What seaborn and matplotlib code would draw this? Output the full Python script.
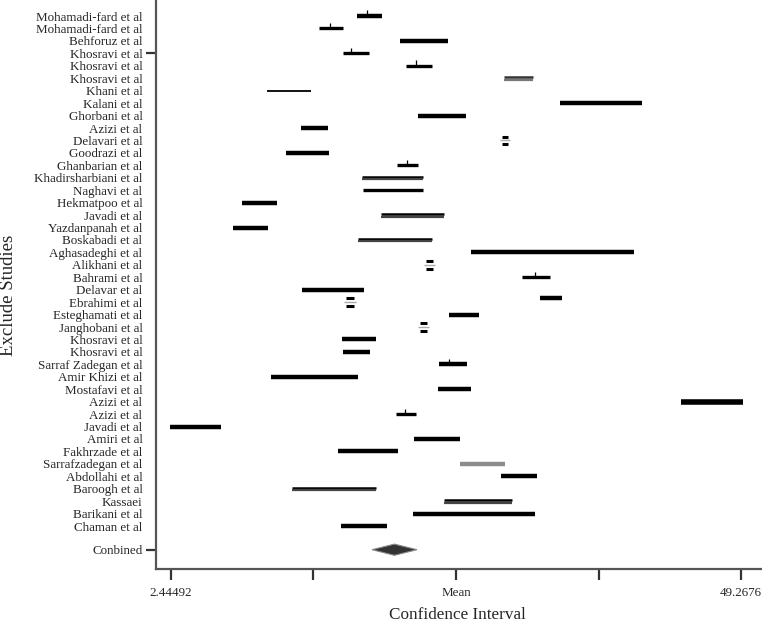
import numpy as np
import pandas as pd
import matplotlib
matplotlib.use("Agg")
import matplotlib.pyplot as plt
import seaborn as sns

# --- DATA ---
studies = [
    "Mohamadi-fard et al", "Mohamadi-fard et al", "Behforuz et al", "Khosravi et al",
    "Khosravi et al", "Khosravi et al", "Khani et al", "Kalani et al", "Ghorbani et al",
    "Azizi et al", "Delavari et al", "Goodrazi et al", "Ghanbarian et al",
    "Khadirsharbiani et al", "Naghavi et al", "Hekmatpoo et al", "Javadi et al",
    "Yazdanpanah et al", "Boskabadi et al", "Aghasadeghi et al", "Alikhani et al",
    "Bahrami et al", "Delavar et al", "Ebrahimi et al", "Esteghamati et al",
    "Janghobani et al", "Khosravi et al", "Khosravi et al", "Sarraf Zadegan et al",
    "Amir Khizi et al", "Mostafavi et al", "Azizi et al", "Azizi et al", "Javadi et al",
    "Amiri et al", "Fakhrzade et al", "Sarrafzadegan et al", "Abdollahi et al",
    "Baroogh et al", "Kassaei", "Barikani et al", "Chaman et al",
]
lower = [17.72, 14.60, 21.26, 16.57, 21.75, 29.80, 10.33, 34.40, 22.74, 13.12,
         29.64, 11.89, 21.01, 18.14, 18.22, 8.28, 19.70, 7.54, 17.81, 27.09,
         23.39, 31.28, 13.21, 16.82, 25.28, 22.90, 16.49, 16.57, 24.46, 10.66,
         24.38, 44.34, 20.93, 2.36, 22.41, 16.16, 26.19, 29.55, 12.39, 24.87,
         22.32, 16.41]
upper = [19.78, 16.57, 25.20, 18.71, 23.89, 32.18, 13.95, 41.13, 26.68, 15.34,
         30.13, 15.42, 22.74, 23.15, 23.15, 11.15, 24.87, 10.41, 23.89, 40.48,
         23.97, 33.58, 18.30, 17.48, 27.75, 23.47, 19.28, 18.79, 26.76, 17.81,
         27.09, 49.43, 22.57, 6.55, 26.19, 21.09, 29.88, 32.51, 19.28, 30.46,
         32.35, 20.19]
estimate = [18.55, 15.51, None, 17.23, 22.57, None, None, None, None, None,
            None, None, 21.83, None, None, None, None, None, None, None,
            None, 32.35, None, None, None, None, None, None, 25.28, None,
            None, None, 21.67, None, None, None, None, None, None, None,
            None, None]
# second interval drawn next to Ebrahimi
extra_row = [23]
extra_lower = [32.76]
extra_upper = [34.56]

combined_label = "Conbined"
combined_low, combined_mid, combined_high = 18.96, 20.80, 22.65

x_min, x_max = 2.44492, 49.2676

# drawing kind per row (style only)
kind = ["thick", "mid", "thick", "mid", "mid", "grey2", "thin", "thick", "thick", "thick",
        "box", "thick", "mid", "double", "mid", "thick", "double", "thick", "double", "thick",
        "box", "mid", "thick", "box", "thick", "box", "thick", "thick", "thick", "thick",
        "thick", "heavy", "mid", "thick", "thick", "thick", "grey", "thick", "double", "double",
        "thick", "thick"]


def generate_plot():
    sns.set_style("ticks")
    plt.rcParams["font.family"] = ["Liberation Serif", "DejaVu Serif"]

    df = pd.DataFrame({"study": studies, "lo": lower, "hi": upper,
                       "est": estimate, "kind": kind})
    df["row"] = np.arange(len(df))
    comb_row = len(df) + 0.9

    fig = plt.figure(figsize=(7.62, 6.23), dpi=100)
    ax = fig.add_axes([0.2043, 0.0867, 0.7957, 0.9133])

    for _, r in df.iterrows():
        y = r["row"]
        k = r["kind"]
        if k == "thick":
            ax.hlines(y, r["lo"], r["hi"], color="black", lw=3.2)
        elif k == "heavy":
            ax.hlines(y, r["lo"], r["hi"], color="black", lw=4.0)
        elif k == "mid":
            ax.hlines(y, r["lo"], r["hi"], color="black", lw=2.4)
        elif k == "thin":
            ax.hlines(y, r["lo"], r["hi"], color="black", lw=1.3)
        elif k == "grey":
            ax.hlines(y, r["lo"], r["hi"], color="#8c8c8c", lw=3.2)
        elif k == "double":
            ax.hlines(y - 0.1, r["lo"], r["hi"], color="black", lw=1.8)
            ax.hlines(y + 0.12, r["lo"], r["hi"], color="#444444", lw=1.6)
        elif k == "grey2":
            ax.hlines(y - 0.1, r["lo"], r["hi"], color="#333333", lw=1.8)
            ax.hlines(y + 0.12, r["lo"], r["hi"], color="#777777", lw=1.6)
        elif k == "box":
            ax.hlines(y - 0.3, r["lo"], r["hi"], color="black", lw=2.2)
            ax.hlines(y + 0.3, r["lo"], r["hi"], color="black", lw=2.2)
            ax.hlines(y, r["lo"] - 0.15, r["hi"] + 0.15, color="#aaaaaa", lw=1.0)
        if pd.notna(r["est"]):
            ax.vlines(r["est"], y - 0.45, y, color="black", lw=0.9)

    for rw, lo, hi in zip(extra_row, extra_lower, extra_upper):
        ax.hlines(rw - 0.35, lo, hi, color="black", lw=3.2)

    # combined diamond
    ax.fill([combined_low, combined_mid, combined_high, combined_mid],
            [comb_row, comb_row - 0.45, comb_row, comb_row + 0.45],
            color="#333333", lw=0.8, ec="#888888")

    # axes
    ax.set_xlim(1.19, 50.99)
    ax.set_ylim(44.45, -1.29)
    step = (x_max - x_min) / 4
    xt = [x_min + i * step for i in range(5)]
    ax.set_xticks(xt)
    ax.set_xticklabels(["2.44492", "", "Mean", "", "49.2676"], fontsize=9.4)

    yt = list(df["row"]) + [comb_row]
    ax.set_yticks(yt)
    ax.set_yticklabels(list(df["study"]) + [combined_label], fontsize=9.4)
    for i, t in enumerate(ax.yaxis.get_major_ticks()):
        if i not in (3, len(yt) - 1):
            t.tick1line.set_visible(False)

    ax.tick_params(axis="x", length=8, width=1.6, pad=5, color="#333333")
    ax.tick_params(axis="y", length=7, width=1.6, pad=2.5, color="#333333")
    for side in ("top", "right"):
        ax.spines[side].set_visible(False)
    for side in ("left", "bottom"):
        ax.spines[side].set_color("#555555")
        ax.spines[side].set_linewidth(1.6)

    ax.set_xlabel("Confidence Interval", fontsize=12.3)
    ax.xaxis.set_label_coords(0.497, -0.067)
    ax.set_ylabel("Exclude Studies", fontsize=13.5)
    ax.yaxis.set_label_coords(-0.229, 0.481)

    fig.savefig("out.png", dpi=100)


if __name__ == "__main__":
    generate_plot()
